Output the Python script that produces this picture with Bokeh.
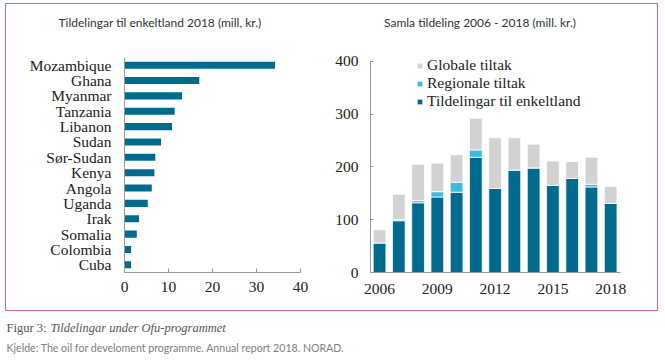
from bokeh.plotting import figure
from bokeh.models import FactorRange, Range1d, FixedTicker, Label, Legend, LegendItem, ColumnDataSource
from bokeh.layouts import row, column
from bokeh.embed import file_html
from bokeh.resources import INLINE

# ---- data ----
countries = ["Mozambique", "Ghana", "Myanmar", "Tanzania", "Libanon", "Sudan", "Sør-Sudan",
             "Kenya", "Angola", "Uganda", "Irak", "Somalia", "Colombia", "Cuba"]
values_2018 = [34.2, 17.0, 13.1, 11.4, 10.8, 8.3, 7.0, 6.8, 6.2, 5.3, 3.3, 2.8, 1.5, 1.5]
left_ticks = [0, 10, 20, 30, 40]

years = [2006, 2007, 2008, 2009, 2010, 2011, 2012, 2013, 2014, 2015, 2016, 2017, 2018]
enkeltland = [56, 98, 132, 143, 152, 218, 159, 194, 198, 165, 178, 162, 131]
regionale = [0, 2, 4, 10, 19, 14, 0, 0, 0, 0, 0, 5, 0]
globale = [25, 48, 69, 54, 52, 60, 96, 61, 45, 46, 32, 51, 32]
right_yticks = [0, 100, 200, 300, 400]
right_xticks = [2006, 2009, 2012, 2015, 2018]

series_names = ["Tildelingar til enkeltland", "Regionale tiltak", "Globale tiltak"]
title_left = "Tildelingar til enkeltland 2018 (mill, kr.)"
title_right = "Samla tildeling 2006 - 2018 (mill. kr.)"
caption_a = "Figur 3:"
caption_b = "Tildelingar under Ofu-programmet"
source_text = "Kjelde: The oil for develoment programme. Annual report 2018.  NORAD."

# ---- styles ----
TEAL = "#006b8f"
CYAN = "#3dbbdf"
GRAY = "#d2d2d2"
PINK = "#e0609e"
AXIS = "#9a9a9a"
SERIF = "Liberation Serif"
SANS = "Lato"
ROW_H = 261


def blank(p):
    p.xaxis.visible = False
    p.yaxis.visible = False
    p.xgrid.visible = False
    p.ygrid.visible = False
    p.outline_line_color = None


def style_axes(p):
    p.outline_line_color = None
    p.xgrid.visible = False
    p.ygrid.visible = False
    for ax in (p.xaxis[0], p.yaxis[0]):
        ax.axis_line_color = AXIS
        ax.major_tick_line_color = AXIS
        ax.minor_tick_line_color = None
        ax.major_label_text_font = SERIF
        ax.major_label_text_font_size = "15.5px"
        ax.major_label_text_color = "#222222"


# ---- header with both titles ----
header = figure(width=651, height=45, output_backend="svg", toolbar_location=None,
                x_range=Range1d(0, 1), y_range=Range1d(0, 1),
                min_border_left=0, min_border_right=0, min_border_top=0, min_border_bottom=0)
blank(header)
header.add_layout(Label(x=153.5, y=27.5, x_units="screen", y_units="screen", text=title_left,
                        text_align="center", text_baseline="middle", text_font=SANS,
                        text_font_size="12px", text_color="#333333"))
header.add_layout(Label(x=473.5, y=27.5, x_units="screen", y_units="screen", text=title_right,
                        text_align="center", text_baseline="middle", text_font=SANS,
                        text_font_size="12px", text_color="#333333"))

# ---- left chart ----
p1 = figure(width=320, height=ROW_H, output_backend="svg", toolbar_location=None,
            y_range=FactorRange(factors=list(reversed(countries)), range_padding=0),
            x_range=Range1d(0, 40),
            min_border_left=118, min_border_right=26, min_border_top=8, min_border_bottom=38)
src1 = ColumnDataSource(dict(country=countries, val=values_2018))
p1.hbar(y="country", right="val", left=0, height=0.46, source=src1, color=TEAL, line_color=None)
style_axes(p1)
p1.xaxis.ticker = FixedTicker(ticks=left_ticks)
p1.xaxis.major_tick_in = 4
p1.xaxis.major_tick_out = 0
p1.xaxis.major_label_standoff = 9
p1.yaxis.major_tick_in = 0
p1.yaxis.major_tick_out = 0
p1.yaxis.major_label_standoff = 13

# ---- right chart ----
p2 = figure(width=331, height=ROW_H, output_backend="svg", toolbar_location=None,
            x_range=Range1d(2005.53, 2018.51), y_range=Range1d(0, 407),
            min_border_left=44, min_border_right=37, min_border_top=8, min_border_bottom=38)
src2 = ColumnDataSource(dict(year=years, e=enkeltland, r=regionale, g=globale))
rs = p2.vbar_stack(["e", "r", "g"], x="year", width=0.66, source=src2,
                   color=[TEAL, CYAN, GRAY], line_color="white", line_width=0.8)
style_axes(p2)
p2.yaxis.bounds = (0, 400)
p2.yaxis.ticker = FixedTicker(ticks=right_yticks)
p2.yaxis.major_tick_in = 3
p2.yaxis.major_tick_out = 0
p2.yaxis.major_label_standoff = 12
p2.xaxis.ticker = FixedTicker(ticks=right_xticks)
p2.xaxis.major_tick_in = 0
p2.xaxis.major_tick_out = 0
p2.xaxis.major_label_standoff = 11
legend = Legend(items=[LegendItem(label=series_names[2], renderers=[rs[2]]),
                       LegendItem(label=series_names[1], renderers=[rs[1]]),
                       LegendItem(label=series_names[0], renderers=[rs[0]])],
                location=(46, 162), orientation="vertical",
                glyph_width=7, glyph_height=7, label_standoff=4, spacing=-2,
                label_height=14, padding=0, margin=0,
                border_line_color=None, background_fill_alpha=0,
                label_text_font=SERIF, label_text_font_size="15.5px",
                label_text_color="#222222")
p2.add_layout(legend)

box = column(header, row(p1, p2), styles={"border": f"1.5px solid {PINK}"})

# ---- caption ----
p3 = figure(width=651, height=45, output_backend="svg", toolbar_location=None,
            x_range=Range1d(0, 1), y_range=Range1d(0, 1),
            min_border_left=0, min_border_right=0, min_border_top=0, min_border_bottom=0)
blank(p3)
p3.add_layout(Label(x=1, y=29, x_units="screen", y_units="screen", text=caption_a,
                    text_baseline="middle", text_font=SERIF, text_font_size="12.5px",
                    text_color="#555555"))
p3.add_layout(Label(x=45, y=29, x_units="screen", y_units="screen", text=caption_b,
                    text_baseline="middle", text_font=SERIF, text_font_style="italic",
                    text_font_size="12.5px", text_color="#555555"))
p3.add_layout(Label(x=1, y=9, x_units="screen", y_units="screen", text=source_text,
                    text_baseline="middle", text_font=SANS, text_font_size="10.6px",
                    text_color="#808080"))

layout = column(box, p3, margin=(3, 0, 0, 5))
open("out.html", "w").write(file_html(layout, INLINE))
